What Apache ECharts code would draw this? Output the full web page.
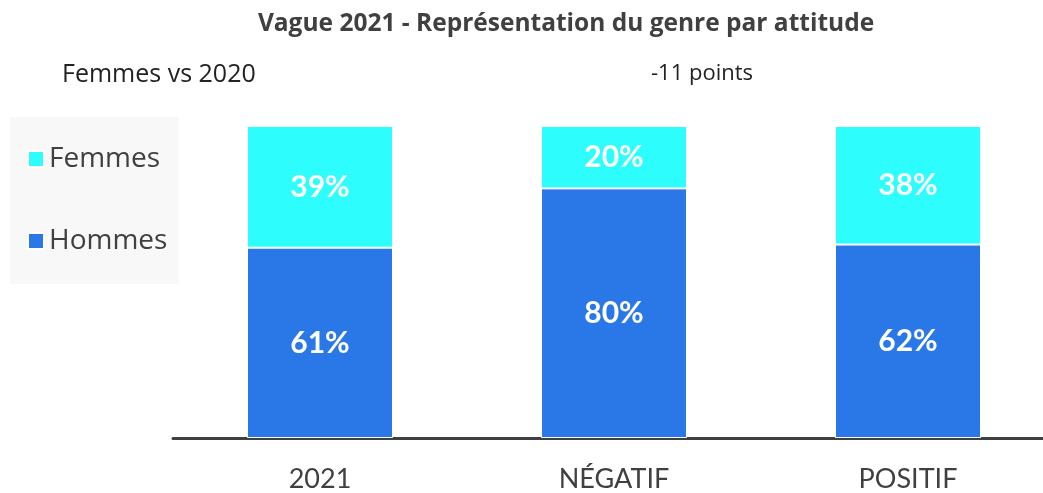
<!DOCTYPE html>
<html>
<head>
<meta charset="utf-8">
<script src="https://cdn.jsdelivr.net/npm/echarts@6/dist/echarts.min.js"></script>
<style>
  html, body { margin: 0; padding: 0; background: #fff; }
  #canvas { width: 1043px; height: 493px; }
</style>
</head>
<body>
<div id="canvas"></div>
<script>
const categories = ["2021", "NÉGATIF", "POSITIF"];
const hommes = [61, 80, 62];
const femmes = [39, 20, 38];

const txt = "#404040";
const font = "Lato";
const myChart = window.echarts.init(document.querySelector("#canvas"));
const segLabel = {
  show: true,
  position: "inside",
  color: "#fff",
  fontFamily: font,
  fontWeight: "bold",
  fontSize: 30,
  formatter: p => p.value + "%"
};
myChart.setOption({
  animation: false,
  title: [
    {
      text: "Vague 2021 - Représentation du genre par attitude",
      left: 561, top: 7, textAlign: "center",
      textStyle: { fontFamily: "Open Sans", fontSize: 24.5, fontWeight: "bold", color: txt }
    },
    {
      text: "Femmes vs 2020",
      left: 57, top: 57,
      textStyle: { fontFamily: "Open Sans", fontSize: 25, fontWeight: "normal", color: "#222" }
    },
    {
      text: "-11 points",
      left: 697, top: 58, textAlign: "center",
      textStyle: { fontFamily: "Open Sans", fontSize: 22, fontWeight: "normal", color: "#222" }
    }
  ],
  legend: {
    orient: "vertical",
    left: 10, top: 117,
    padding: [26, 11, 27, 17],
    backgroundColor: "#f8f8f8",
    itemWidth: 16, itemHeight: 16,
    itemGap: 50,
    icon: "rect",
    data: ["Femmes", "Hommes"],
    textStyle: { fontFamily: "Open Sans", fontSize: 28, color: txt, lineHeight: 32 }
  },
  grid: { left: 173, width: 882, top: 126, bottom: 55, outerBoundsMode: "none" },
  xAxis: {
    type: "category",
    data: categories,
    axisTick: { show: false },
    axisLine: { lineStyle: { color: "#404040", width: 3 } },
    axisLabel: { fontFamily: font, fontSize: 27, color: txt, margin: 28 }
  },
  yAxis: {
    type: "value", min: 0, max: 100,
    show: false,
    splitLine: { show: false }
  },
  series: [
    {
      name: "Hommes", type: "bar", stack: "g", data: hommes,
      barWidth: 146,
      itemStyle: { color: "#2a78e8", borderColor: "#fff", borderWidth: 1 },
      label: segLabel
    },
    {
      name: "Femmes", type: "bar", stack: "g", data: femmes,
      barWidth: 146,
      itemStyle: { color: "#2dfdfd", borderColor: "#fff", borderWidth: 1 },
      label: segLabel
    }
  ]
});
</script>
</body>
</html>
